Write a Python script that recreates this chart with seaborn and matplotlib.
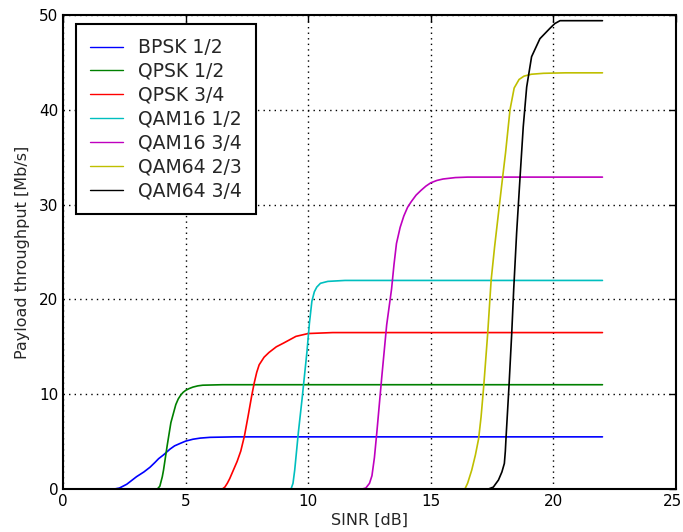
import matplotlib
matplotlib.use("Agg")
import matplotlib.pyplot as plt
from matplotlib.transforms import ScaledTranslation
import seaborn as sns
import pandas as pd

schemes = ["BPSK 1/2", "QPSK 1/2", "QPSK 3/4", "QAM16 1/2", "QAM16 3/4", "QAM64 2/3", "QAM64 3/4"]
colors = ["#0000ff", "#008000", "#ff0000", "#00bfbf", "#bf00bf", "#bfbf00", "#000000"]

bpsk12_x = [0.0, 2.1, 2.3, 2.6, 3.0, 3.3, 3.55, 3.75, 3.9, 4.1, 4.36, 4.55, 4.77, 5.0, 5.3, 5.6, 6.0, 7.0, 22.0]
bpsk12_y = [0.0, 0.0, 0.1, 0.5, 1.3, 1.8, 2.3, 2.8, 3.2, 3.6, 4.2, 4.55, 4.8, 5.05, 5.25, 5.37, 5.45, 5.5, 5.5]

qpsk12_x = [0.0, 3.85, 3.95, 4.05, 4.1, 4.25, 4.4, 4.6, 4.7, 4.8, 4.9, 5.0, 5.15, 5.3, 5.5, 5.7, 6.5, 22.0]
qpsk12_y = [0.0, 0.0, 0.3, 1.3, 2.0, 4.6, 7.0, 8.9, 9.5, 9.9, 10.2, 10.4, 10.6, 10.75, 10.88, 10.95, 11.0, 11.0]

qpsk34_x = [0.0, 6.5, 6.6, 6.7, 6.8, 6.95, 7.1, 7.25, 7.4, 7.55, 7.7, 7.8, 7.9, 8.0, 8.2, 8.4, 8.7, 9.0, 9.5, 10.0, 11.0, 22.0]
qpsk34_y = [0.0, 0.0, 0.2, 0.6, 1.1, 2.0, 2.9, 4.0, 5.6, 7.7, 9.9, 11.2, 12.3, 13.1, 13.9, 14.4, 15.0, 15.4, 16.1, 16.4, 16.5, 16.5]

qam16_12_x = [0.0, 9.3, 9.38, 9.45, 9.6, 9.75, 9.85, 9.95, 10.05, 10.15, 10.25, 10.35, 10.5, 10.8, 11.5, 22.0]
qam16_12_y = [0.0, 0.0, 0.6, 2.0, 6.0, 9.5, 12.0, 14.5, 17.5, 19.8, 20.8, 21.3, 21.7, 21.9, 22.0, 22.0]

qam16_34_x = [0.0, 12.2, 12.35, 12.5, 12.6, 12.7, 12.8, 13.0, 13.2, 13.4, 13.5, 13.6, 13.75, 13.9, 14.05, 14.2, 14.4, 14.6, 14.8, 15.0, 15.25, 15.5, 16.0, 16.5, 22.0]
qam16_34_y = [0.0, 0.0, 0.1, 0.6, 1.4, 3.3, 6.0, 11.8, 17.3, 21.1, 23.7, 25.9, 27.6, 28.8, 29.7, 30.3, 31.0, 31.5, 31.95, 32.3, 32.55, 32.7, 32.85, 32.9, 32.9]

qam64_23_x = [0.0, 16.39, 16.5, 16.67, 16.82, 16.95, 17.05, 17.16, 17.32, 17.46, 17.6, 17.8, 17.93, 18.05, 18.23, 18.4, 18.6, 18.8, 19.1, 19.6, 20.5, 22.0]
qam64_23_y = [0.0, 0.0, 0.6, 2.0, 3.6, 5.3, 7.6, 10.9, 16.4, 22.0, 25.5, 30.0, 32.9, 35.5, 40.0, 42.3, 43.2, 43.55, 43.75, 43.85, 43.9, 43.9]

qam64_34_x = [0.0, 17.35, 17.55, 17.76, 17.9, 18.0, 18.04, 18.07, 18.19, 18.3, 18.38, 18.5, 18.64, 18.77, 18.91, 19.11, 19.45, 19.86, 20.06, 20.27, 22.0]
qam64_34_y = [0.0, 0.0, 0.2, 0.95, 1.8, 2.7, 4.0, 5.5, 10.9, 16.4, 21.0, 27.0, 32.9, 38.2, 42.4, 45.6, 47.5, 48.6, 49.1, 49.4, 49.4]

series_x = [bpsk12_x, qpsk12_x, qpsk34_x, qam16_12_x, qam16_34_x, qam64_23_x, qam64_34_x]
series_y = [bpsk12_y, qpsk12_y, qpsk34_y, qam16_12_y, qam16_34_y, qam64_23_y, qam64_34_y]

rows = []
for name, xs, ys in zip(schemes, series_x, series_y):
    for x, y in zip(xs, ys):
        rows.append({"scheme": name, "SINR": x, "thr": y})
df = pd.DataFrame(rows)

sns.set_style("white")
plt.rcParams['font.family'] = ['DejaVu Sans']

fig = plt.figure(figsize=(6.83, 5.32), dpi=100)
ax = fig.add_axes([63/683, 43/532, (676-63)/683, (489-15)/532])

sns.lineplot(data=df, x="SINR", y="thr", hue="scheme", hue_order=schemes,
             palette=colors, sort=False, estimator=None, units="scheme",
             linewidth=1.2, ax=ax, legend=True)

ax.set_xlim(0, 25)
ax.set_ylim(0, 50)
ax.set_xticks([0, 5, 10, 15, 20, 25])
ax.set_yticks([0, 10, 20, 30, 40, 50])
ax.grid(True, color="black", linestyle=(0, (1, 3)), linewidth=1.0)
ax.tick_params(direction="in", top=True, right=True, length=5, width=1, labelsize=11, colors="black")
for s in ax.spines.values():
    s.set_visible(True)
    s.set_color("black")
    s.set_linewidth(1.5)
ax.set_xlabel("SINR [dB]", fontsize=11.5, labelpad=3)
ax.set_ylabel("Payload throughput [Mb/s]", fontsize=11.5, labelpad=6)

fig.canvas.draw()
last = ax.get_xticklabels()[-1]
last.set_transform(last.get_transform() + ScaledTranslation(-3/100, 0, fig.dpi_scale_trans))

leg = ax.legend(loc="upper left", bbox_to_anchor=(13/613, 465/474), fontsize=13.5,
                frameon=True, fancybox=False, framealpha=1, edgecolor="black",
                labelspacing=0.26, handlelength=1.75, handletextpad=0.8, borderpad=0.75,
                borderaxespad=0)
leg.get_frame().set_linewidth(1.5)
for l in leg.get_lines():
    l.set_linewidth(1.0)

fig.savefig("out.png", dpi=100)
